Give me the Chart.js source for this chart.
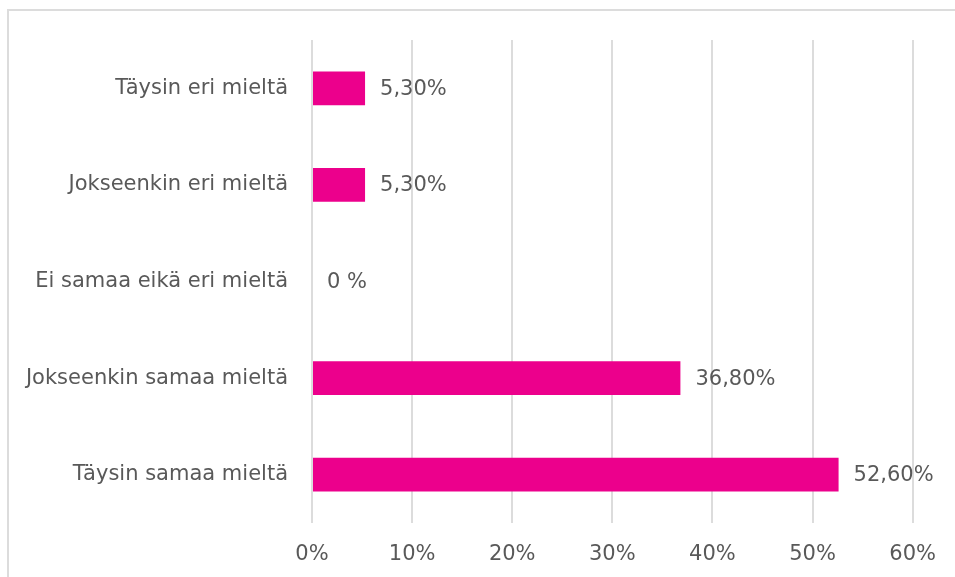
<!DOCTYPE html>
<html>
<head>
<meta charset="utf-8">
<script src="https://cdn.jsdelivr.net/npm/chart.js@4"></script>
<style>
  html, body { margin: 0; padding: 0; background: #fff; }
  #wrap { width: 955px; height: 577px; position: relative; }
</style>
</head>
<body>
<div id="wrap"><canvas id="answersChart"></canvas></div>
<script>
// Survey answers, top to bottom
const categories = [
    'Täysin eri mieltä',
    'Jokseenkin eri mieltä',
    'Ei samaa eikä eri mieltä',
    'Jokseenkin samaa mieltä',
    'Täysin samaa mieltä'
];
const shares = [5.3, 5.3, 0, 36.8, 52.6];
const shareLabels = ['5,30%', '5,30%', '0 %', '36,80%', '52,60%'];
const xTicks = [0, 10, 20, 30, 40, 50, 60];

const textColor = '#595959';
const gridColor = '#dcdcdc';
const fontFamily = 'Tahoma, "DejaVu Sans", Verdana, sans-serif';
const fontSize = 21;

/**
 * Light frame around the chart box (open on the right and bottom)
 */
const framePlugin = {
    id: 'frame',
    beforeDraw(chart) {
        const ctx = chart.ctx;
        ctx.save();
        ctx.strokeStyle = gridColor;
        ctx.lineWidth = 2;
        ctx.beginPath();
        ctx.moveTo(8, chart.height + 2);
        ctx.lineTo(8, 10);
        ctx.lineTo(chart.width + 2, 10);
        ctx.stroke();
        ctx.restore();
    }
};

/**
 * Value labels to the right of each bar
 */
const valueLabelPlugin = {
    id: 'valueLabels',
    afterDatasetsDraw(chart) {
        const ctx = chart.ctx;
        const meta = chart.getDatasetMeta(0);
        ctx.save();
        ctx.font = fontSize + 'px ' + fontFamily;
        ctx.fillStyle = textColor;
        ctx.textBaseline = 'middle';
        ctx.textAlign = 'left';
        meta.data.forEach((bar, i) => {
            ctx.fillText(shareLabels[i], bar.x + 15, bar.y + 1);
        });
        ctx.restore();
    }
};

document.addEventListener('DOMContentLoaded', function() {
    const canvas = document.getElementById('answersChart');
    new Chart(canvas, {
        type: 'bar',
        data: {
            labels: categories,
            datasets: [{
                data: shares,
                backgroundColor: '#ec008c',
                borderWidth: 0,
                categoryPercentage: 1,
                barPercentage: 0.35
            }]
        },
        options: {
            indexAxis: 'y',
            responsive: true,
            maintainAspectRatio: false,
            animation: false,
            layout: { padding: { top: 40, right: 41, bottom: 0, left: 0 } },
            plugins: {
                legend: { display: false },
                tooltip: { enabled: false }
            },
            scales: {
                x: {
                    min: 0,
                    max: 60,
                    afterBuildTicks(scale) {
                        scale.ticks = xTicks.map(v => ({ value: v }));
                    },
                    afterFit(scale) { scale.height = 54; },
                    grid: { color: gridColor, lineWidth: 2, drawTicks: false },
                    border: { display: false },
                    ticks: {
                        padding: 19,
                        color: textColor,
                        font: { family: fontFamily, size: fontSize },
                        callback: v => v + '%'
                    }
                },
                y: {
                    afterFit(scale) { scale.width = 312; },
                    grid: { display: false, drawTicks: false },
                    border: { display: false },
                    ticks: {
                        padding: 24,
                        color: textColor,
                        font: { family: fontFamily, size: fontSize }
                    }
                }
            }
        },
        plugins: [framePlugin, valueLabelPlugin]
    });
});
</script>
</body>
</html>
